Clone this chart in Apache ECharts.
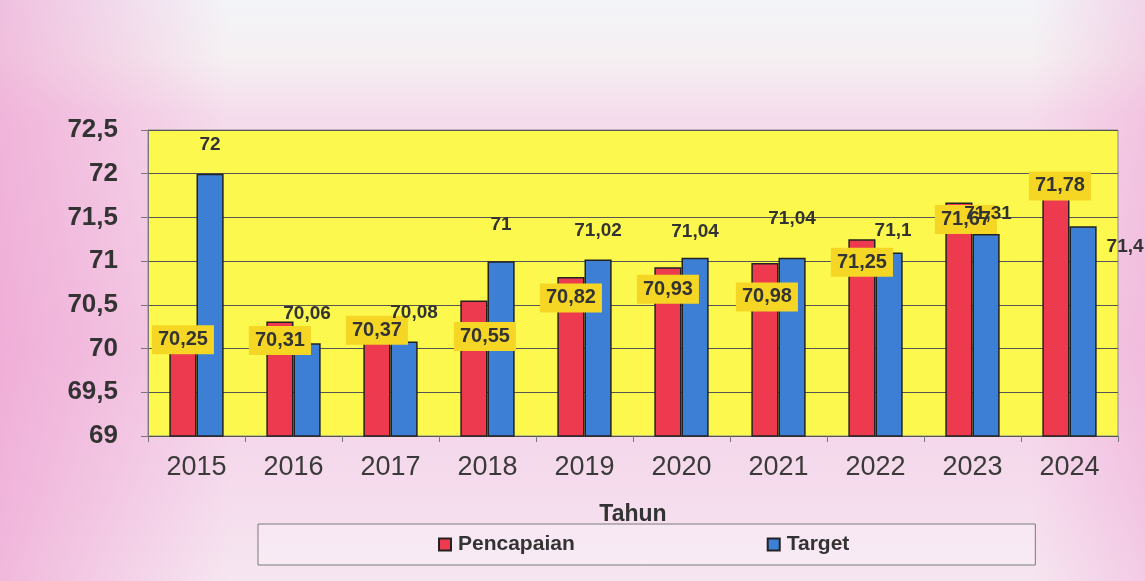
<!DOCTYPE html>
<html>
<head>
<meta charset="utf-8">
<title>Pencapaian vs Target</title>
<script src="https://cdn.jsdelivr.net/npm/echarts@6/dist/echarts.min.js"></script>
<style>
  html, body { margin: 0; padding: 0; }
  #chart { width: 1145px; height: 581px; }
</style>
</head>
<body>
<div id="chart"></div>
<script>
  var years = ['2015', '2016', '2017', '2018', '2019', '2020', '2021', '2022', '2023', '2024'];
  var pencapaian = [70.25, 70.31, 70.37, 70.55, 70.82, 70.93, 70.98, 71.25, 71.67, 71.78];
  var target = [72, 70.06, 70.08, 71, 71.02, 71.04, 71.04, 71.1, 71.31, 71.4];
  var yTicks = [69, 69.5, 70, 70.5, 71, 71.5, 72, 72.5];

  // label nudges (px) copied from the hand-placed labels in the original
  var pLabelShift = [[0, 13], [0, 19], [0, 14], [11, 36], [0, 21], [0, 22], [2, 34], [0, 23], [7, 17], [4, -7]];
  var tLabelShift = [[0, -29], [0, -30], [10, -29], [0, -36], [0, -29], [0, -26], [0, -39], [4, -22], [2, -20], [42, 21]];

  var fmt = function (v) { return String(v).replace('.', ','); };
  var font = 'Arial, "Liberation Sans", sans-serif';

  var chart = echarts.init(document.getElementById('chart'));

  var pData = pencapaian.map(function (v, i) {
    return { value: v, label: { offset: pLabelShift[i] } };
  });
  var tData = target.map(function (v, i) {
    return { value: v, label: { offset: tLabelShift[i] } };
  });

  var option = {
    animation: false,
    backgroundColor: {
      type: 'linear', x: 0, y: 0, x2: 0, y2: 1,
      colorStops: [
        { offset: 0, color: '#f3f4f8' },
        { offset: 0.1, color: '#f5f0f2' },
        { offset: 0.2, color: '#f5dcec' },
        { offset: 0.6, color: '#f4d0e7' },
        { offset: 0.85, color: '#f5dced' },
        { offset: 1, color: '#f6e6f1' }
      ]
    },
    graphic: [
      {
        type: 'rect', left: 0, top: 0, z: -10, silent: true,
        shape: { width: 1145, height: 581 },
        style: {
          fill: {
            type: 'linear', x: 0, y: 0, x2: 1, y2: 0,
            colorStops: [
              { offset: 0, color: 'rgba(236,140,200,0.5)' },
              { offset: 0.1, color: 'rgba(236,140,200,0.25)' },
              { offset: 0.2, color: 'rgba(236,140,200,0)' },
              { offset: 0.9, color: 'rgba(236,140,200,0)' },
              { offset: 1, color: 'rgba(236,140,200,0.3)' }
            ]
          }
        }
      }
    ],
    grid: {
      left: 148, right: 27, top: 130, bottom: 145,
      show: true,
      backgroundColor: '#fcf84e',
      borderColor: '#8a8a8a',
      borderWidth: 1
    },
    legend: {
      data: ['Pencapaian', 'Target'],
      left: 258, top: 524,
      padding: [10, 186, 10, 180],
      itemGap: 192,
      itemWidth: 12, itemHeight: 12,
      icon: 'rect',
      borderColor: '#7a7a7a', borderWidth: 1,
      backgroundColor: 'rgba(255,255,255,0.25)',
      textStyle: { fontFamily: '"Liberation Sans Narrow", ' + font, fontWeight: 'bold', fontSize: 21, color: '#333', padding: [0, 0, 0, 2] }
    },
    xAxis: {
      type: 'category',
      data: years,
      name: 'Tahun',
      nameLocation: 'middle',
      nameGap: 67,
      nameTextStyle: { fontFamily: '"Liberation Sans Narrow", ' + font, fontWeight: 'bold', fontSize: 23, color: '#333' },
      axisLine: { lineStyle: { color: '#555', width: 1 } },
      axisTick: { show: true, length: 6, lineStyle: { color: '#777' } },
      axisLabel: { fontFamily: font, fontSize: 27, color: '#3a3a3a', margin: 18 }
    },
    yAxis: {
      type: 'value',
      min: yTicks[0],
      max: yTicks[yTicks.length - 1],
      interval: 0.5,
      axisLine: { show: true, lineStyle: { color: '#777' } },
      axisTick: { show: true, length: 7, lineStyle: { color: '#777' } },
      splitLine: { lineStyle: { color: '#555', width: 1 } },
      axisLabel: { fontFamily: font, fontSize: 26, fontWeight: 'bold', color: '#333', margin: 30, formatter: fmt }
    },
    series: [
      {
        name: 'Pencapaian',
        type: 'bar',
        data: pData,
        barGap: '0%',
        barCategoryGap: '44%',
        itemStyle: { color: '#ee3a4f', borderColor: '#222', borderWidth: 1.5 },
        label: {
          show: true,
          position: ['50%', 0],
          align: 'center',
          verticalAlign: 'middle',
          overflow: 'none',
          fontFamily: font, fontWeight: 'bold', fontSize: 20, color: '#333',
          backgroundColor: '#f6d624',
          padding: [5, 6, 4, 6],
          formatter: function (p) { return fmt(p.value); }
        }
      },
      {
        name: 'Target',
        type: 'bar',
        data: tData,
        itemStyle: { color: '#3d7fd5', borderColor: '#222', borderWidth: 1.5 },
        label: {
          show: true,
          position: ['50%', 0],
          align: 'center',
          verticalAlign: 'middle',
          overflow: 'none',
          fontFamily: font, fontWeight: 'bold', fontSize: 19, color: '#333',
          formatter: function (p) { return fmt(p.value); }
        }
      }
    ]
  };

  chart.setOption(option);
</script>
</body>
</html>
